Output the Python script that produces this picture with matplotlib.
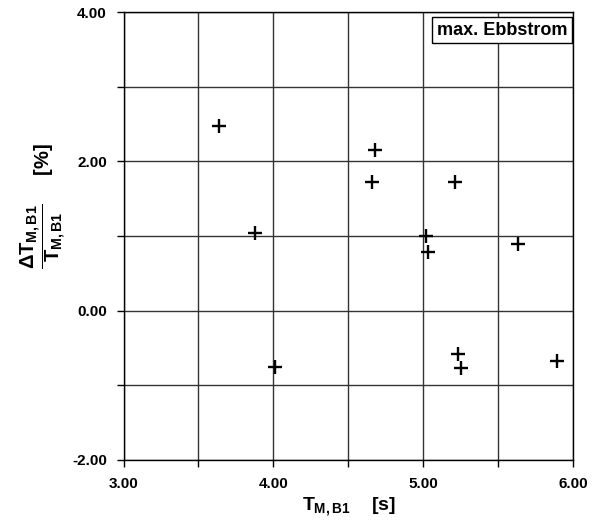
import matplotlib
matplotlib.use('Agg')
import matplotlib.pyplot as plt
import numpy as np

# measured points: T_M,B1 [s] vs dT/T [%]
t_mb1 = [3.64, 3.88, 4.01, 4.66, 4.68, 5.02, 5.03, 5.21, 5.23, 5.25, 5.63, 5.89]
dt_rel = [2.48, 1.04, -0.76, 1.72, 2.15, 1.00, 0.79, 1.73, -0.58, -0.77, 0.89, -0.68]

x_ticks = [3.0, 4.0, 5.0, 6.0]
y_ticks = [-2.0, 0.0, 2.0, 4.0]

plt.rcParams['font.family'] = ['Liberation Sans', 'DejaVu Sans']
plt.rcParams['font.weight'] = 'bold'
plt.rcParams['mathtext.fontset'] = 'custom'
plt.rcParams['mathtext.rm'] = 'Liberation Sans:bold'
plt.rcParams['mathtext.it'] = 'Liberation Sans:bold'
plt.rcParams['mathtext.bf'] = 'Liberation Sans:bold'

fig = plt.figure(figsize=(6.01, 5.23), dpi=100)
ax = fig.add_axes([0.2055, 0.1205, 0.7485, 0.8565])

ax.plot(t_mb1, dt_rel, linestyle='none', marker='+', color='black',
        markersize=10, markeredgewidth=1.7)

ax.set_xlim(3, 6)
ax.set_ylim(-2, 4)
ax.set_xticks(x_ticks)
ax.set_xticklabels(['%.2f' % v for v in x_ticks])
ax.set_yticks(y_ticks)
ax.set_yticklabels(['%.2f' % v for v in y_ticks])
ax.set_xticks(np.arange(3.5, 6, 1.0), minor=True)
ax.set_yticks(np.arange(-1, 4, 2.0), minor=True)
ax.tick_params(which='both', direction='out', length=5, width=1, labelsize=11, pad=7)
ax.grid(which='both', color='#333333', linewidth=1)
ax.set_axisbelow(True)
for s in ax.spines.values():
    s.set_linewidth(1)

ax.set_xlabel(r'$T_{M,B1}$    [s]', fontsize=14, fontweight='bold', labelpad=3)
ax.set_ylabel(r'$\dfrac{\Delta T_{M,B1}}{T_{M,B1}}$     [%]', fontsize=14.5,
              fontweight='bold')
ax.yaxis.set_label_coords(-0.124, 0.567)

ax.text(0.987, 0.978, 'max. Ebbstrom', transform=ax.transAxes, ha='right', va='top',
        fontsize=13, fontweight='bold',
        bbox=dict(boxstyle='square,pad=0.25', facecolor='white', edgecolor='black', linewidth=1))

fig.savefig('out.png', dpi=100)
